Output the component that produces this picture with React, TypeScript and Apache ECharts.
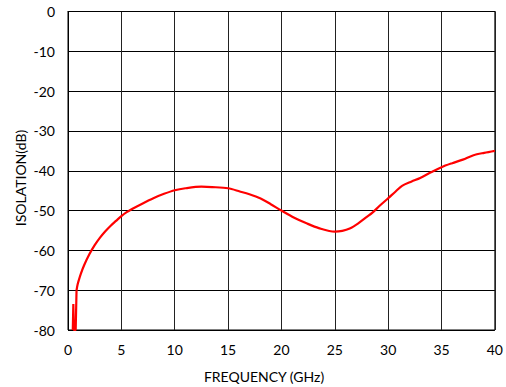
import React, { useEffect, useRef } from "react";
import * as echarts from "echarts";

const freqGHz: number[] = [
  0.45, 0.5, 0.55, 0.72, 0.8, 0.9, 1.0, 1.2, 1.5, 2.0, 2.5, 3.0, 3.5, 4.0, 4.5, 5.0, 5.5, 6.0, 7.0, 8.0, 9.0,
  10, 11, 12.5, 13.5, 15, 16.1, 17, 18, 19, 20, 21.2, 22.35, 23.5, 25, 25.7, 26.4, 27.2, 28, 28.5, 29.2,
  30, 30.7, 31.3, 32.2, 33, 34, 35, 36, 37, 38, 39, 40,
];
const isolationDb: number[] = [
  -80, -73.5, -80, -80, -70, -68.6, -67.6, -65.9, -63.8, -61.0, -58.7, -56.8, -55.2, -53.8, -52.6, -51.4,
  -50.4, -49.6, -48.2, -46.9, -45.8, -44.9, -44.4, -44.0, -44.1, -44.4, -45.2, -45.9, -46.9, -48.4,
  -50, -51.8, -53.2, -54.4, -55.3, -55.1, -54.5, -53.2, -51.6, -50.6, -48.8, -46.9, -45.2, -43.8, -42.7,
  -41.8, -40.4, -39.1, -38.1, -37.2, -36.1, -35.5, -35,
];
// index where the low-frequency spike ends and the smooth response begins
const spikeEnd = 4;
const xTicks = { min: 0, max: 40, interval: 5 };
const yTicks = { min: -80, max: 0, interval: 10 };

const FONT = "Lato";

export default function App() {
  const ref = useRef<HTMLDivElement>(null);
  useEffect(() => {
    if (!ref.current) return;
    const chart = echarts.init(ref.current, undefined, { renderer: "svg" });
    const data = freqGHz.map((f, i) => [f, isolationDb[i]]);
    const spike = data.slice(0, spikeEnd + 1);
    const main = data.slice(spikeEnd);
    const lineStyle = { color: "#ff0000", width: 2.2 };
    chart.setOption({
      animation: false,
      backgroundColor: "#fff",
      grid: { left: 68, right: 11, top: 11.5, bottom: 57, show: true, borderColor: "#000", borderWidth: 1 },
      xAxis: {
        type: "value",
        min: xTicks.min,
        max: xTicks.max,
        interval: xTicks.interval,
        axisLine: { show: true, lineStyle: { color: "#000", width: 1 } },
        axisTick: { show: false },
        axisLabel: { color: "#000", fontFamily: FONT, fontSize: 14, margin: 12 },
        splitLine: { show: true, lineStyle: { color: "#222", width: 1 } },
      },
      yAxis: {
        type: "value",
        min: yTicks.min,
        max: yTicks.max,
        interval: yTicks.interval,
        axisLine: { show: true, lineStyle: { color: "#000", width: 1 } },
        axisTick: { show: false },
        axisLabel: { color: "#000", fontFamily: FONT, fontSize: 14, margin: 13 },
        splitLine: { show: true, lineStyle: { color: "#000", width: 1 } },
      },
      graphic: [
        {
          type: "text",
          x: 264,
          y: 376,
          style: {
            text: "FREQUENCY (GHz)",
            fontFamily: FONT,
            fontSize: 14,
            fill: "#000",
            align: "center",
            verticalAlign: "middle",
          },
        },
        {
          type: "text",
          x: 20,
          y: 178,
          rotation: Math.PI / 2,
          style: {
            text: "ISOLATION(dB)",
            fontFamily: FONT,
            fontSize: 14,
            fill: "#000",
            align: "center",
            verticalAlign: "middle",
          },
        },
      ],
      series: [
        {
          type: "line",
          data: spike,
          showSymbol: false,
          smooth: false,
          lineStyle,
          z: 5,
        },
        {
          type: "line",
          data: main,
          showSymbol: false,
          smooth: 0.3,
          lineStyle,
          z: 5,
        },
      ],
    });
    return () => chart.dispose();
  }, []);
  return (
    <div
      ref={ref}
      style={{ position: "fixed", left: 0, top: 0, width: 506, height: 387, background: "#fff" }}
    />
  );
}
